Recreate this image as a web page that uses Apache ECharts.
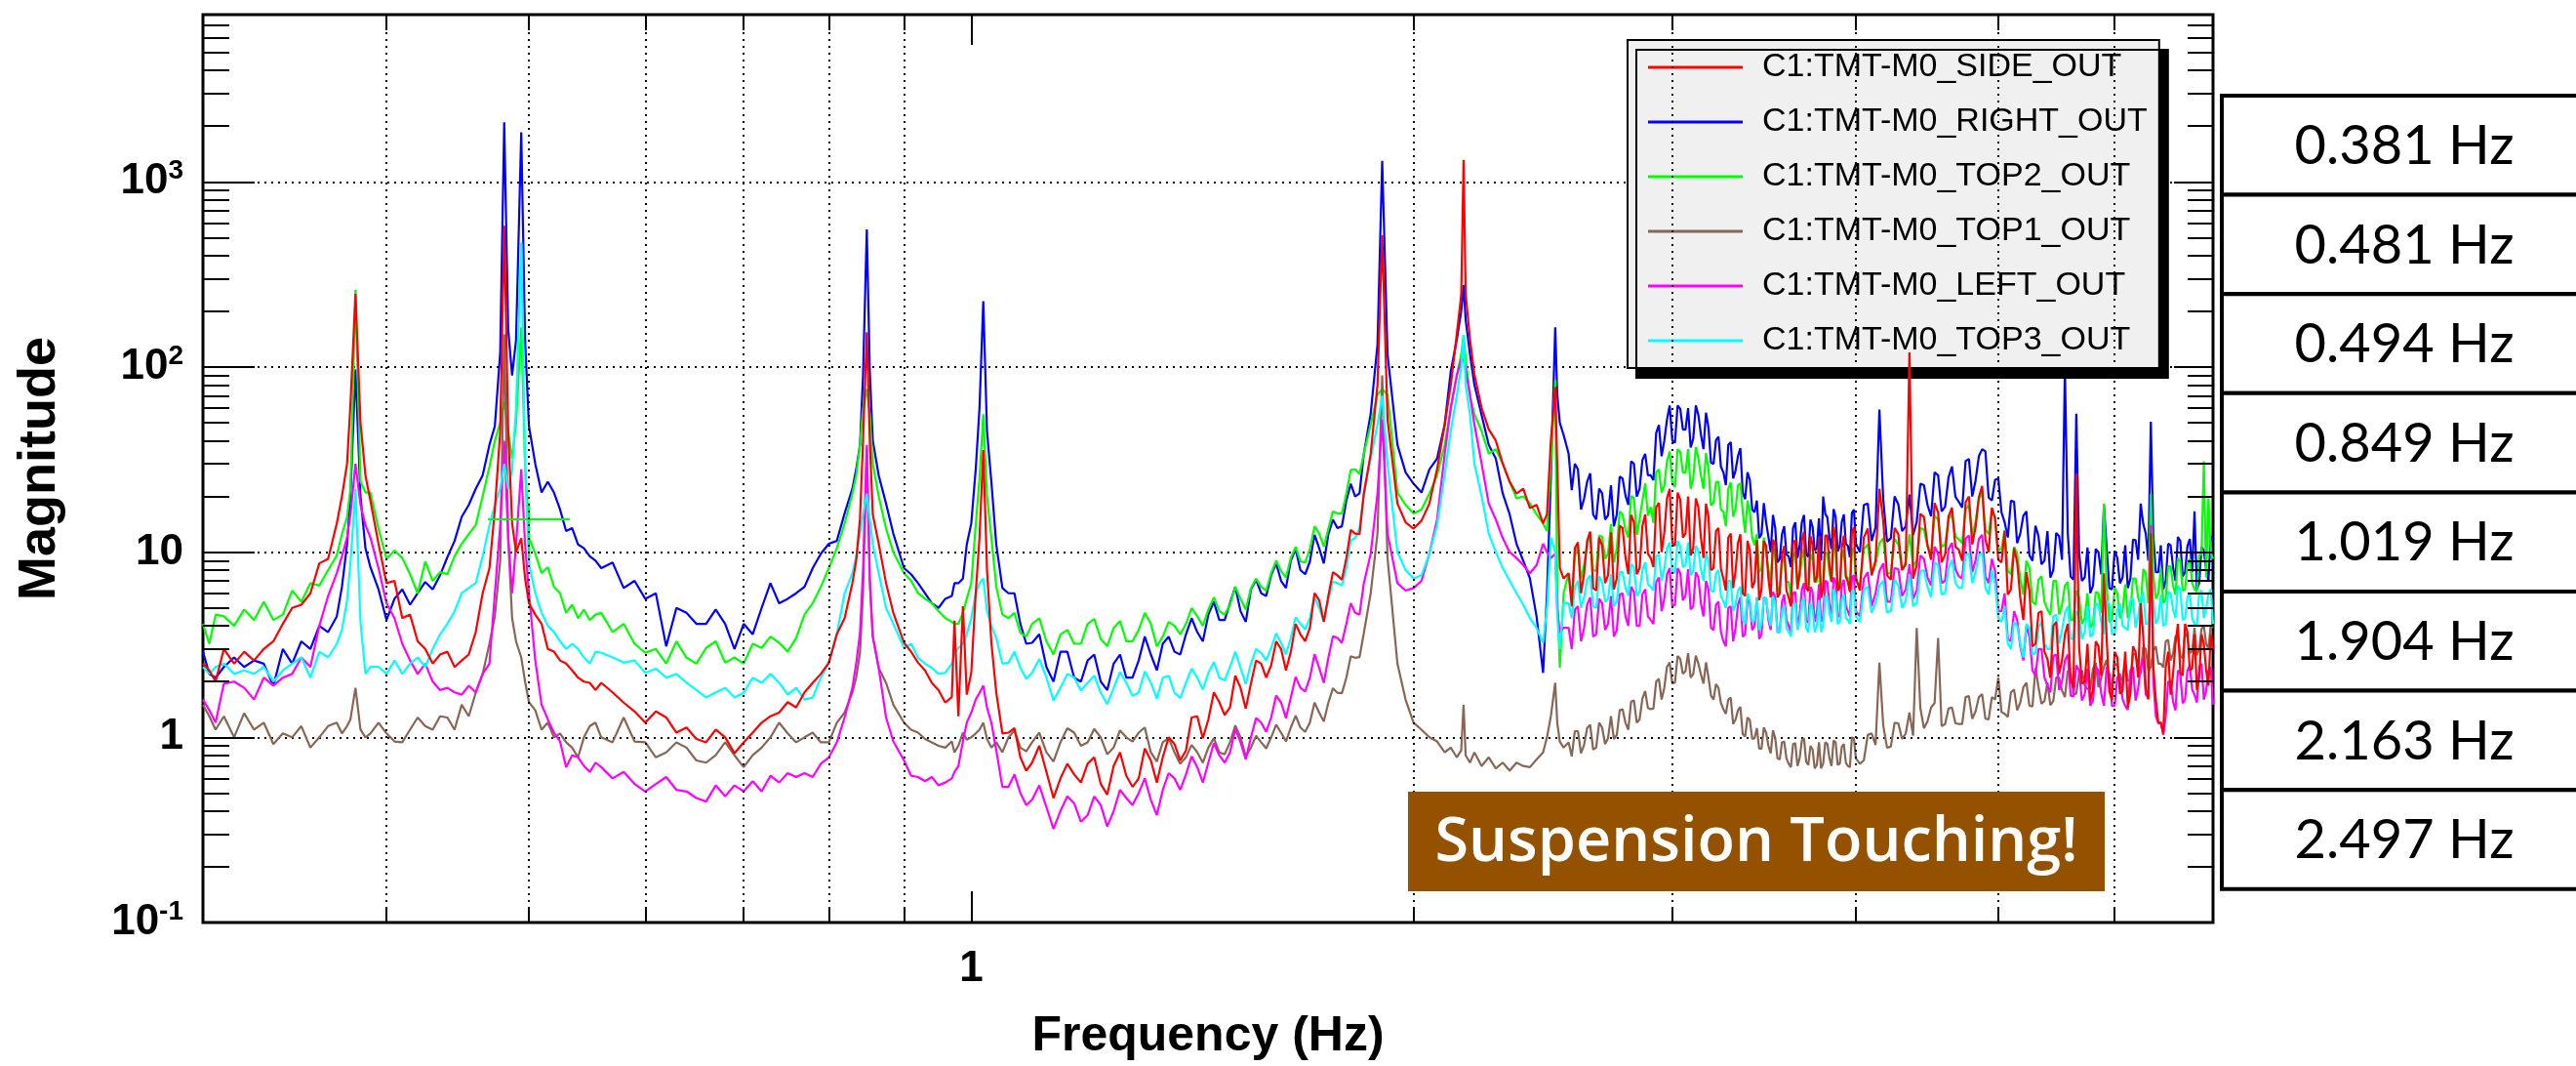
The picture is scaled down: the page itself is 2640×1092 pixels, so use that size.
<!DOCTYPE html>
<html>
<head>
<meta charset="utf-8">
<script src="https://cdn.jsdelivr.net/npm/echarts@6/dist/echarts.min.js"></script>
<style>
  html, body { margin: 0; padding: 0; background: #fff; }
  #main { width: 2640px; height: 1092px; }
</style>
</head>
<body>
<div id="main"></div>
<script>
// frequency bins (Hz), shared by all channels
var freq = [
  0.300, 0.303, 0.306, 0.310, 0.315, 0.320, 0.325, 0.330, 0.335, 0.340,
  0.345, 0.350, 0.355, 0.360, 0.365, 0.370, 0.373, 0.376, 0.378, 0.381,
  0.384, 0.387, 0.390, 0.395, 0.400, 0.405, 0.410, 0.415, 0.420, 0.425,
  0.430, 0.435, 0.440, 0.445, 0.450, 0.455, 0.460, 0.465, 0.470, 0.474,
  0.478, 0.481, 0.484, 0.487, 0.490, 0.494, 0.497, 0.500, 0.505, 0.510,
  0.515, 0.520, 0.525, 0.530, 0.535, 0.540, 0.545, 0.550, 0.555,
  0.56, 0.57, 0.58, 0.59, 0.60, 0.61, 0.62, 0.63, 0.64, 0.65,
  0.66, 0.67, 0.68, 0.69, 0.70, 0.71, 0.72, 0.73, 0.74, 0.75,
  0.76, 0.77, 0.78, 0.79, 0.80, 0.81, 0.82, 0.83, 0.835, 0.84,
  0.844, 0.849, 0.853, 0.857, 0.865, 0.875, 0.885, 0.90, 0.91, 0.92,
  0.93, 0.94, 0.95, 0.96, 0.97, 0.974, 0.98, 0.987, 0.993, 1.000,
  1.007, 1.013, 1.019, 1.025, 1.032, 1.04,
  1.06, 1.08, 1.10, 1.125, 1.15, 1.175, 1.20, 1.225, 1.25, 1.275,
  1.30, 1.325, 1.35, 1.375, 1.40, 1.425, 1.45, 1.475, 1.50, 1.525,
  1.55, 1.575, 1.60, 1.625, 1.65, 1.675, 1.70, 1.725, 1.75, 1.775,
  1.80, 1.825, 1.85, 1.87, 1.89, 1.904, 1.92,
  1.95, 1.975, 2.00, 2.025, 2.05, 2.075, 2.10, 2.12, 2.14, 2.155,
  2.163, 2.17, 2.185, 2.20, 2.225, 2.25, 2.275, 2.30, 2.325, 2.35,
  2.375, 2.40, 2.425, 2.45, 2.465, 2.48, 2.497, 2.505, 2.515, 2.53,
  2.55,
  2.575, 2.600, 2.625, 2.650, 2.675, 2.700, 2.725, 2.750, 2.775, 2.800,
  2.825, 2.850, 2.875, 2.900, 2.925, 2.950, 2.975, 3.000, 3.025, 3.050,
  3.075, 3.100, 3.125, 3.150, 3.175, 3.200, 3.225, 3.250, 3.275, 3.300,
  3.325, 3.350, 3.375, 3.400, 3.425, 3.450, 3.475, 3.500, 3.525, 3.550,
  3.575, 3.600, 3.625, 3.650, 3.675, 3.700, 3.725, 3.750, 3.775, 3.800,
  3.825, 3.850, 3.875, 3.900, 3.925, 3.950, 3.975, 4.000,
  4.05, 4.10, 4.15, 4.20, 4.25, 4.30, 4.35, 4.40, 4.45, 4.50,
  4.55, 4.60, 4.65, 4.70, 4.75, 4.80, 4.85, 4.90, 4.95, 5.00,
  5.05, 5.10, 5.15, 5.20, 5.25, 5.30, 5.35, 5.40, 5.45, 5.50,
  5.55, 5.60, 5.65, 5.70, 5.75, 5.80, 5.85, 5.90, 5.95, 6.00,
  6.05, 6.10, 6.15, 6.20, 6.25, 6.30, 6.35, 6.40, 6.45, 6.50,
  6.55, 6.60, 6.65, 6.70, 6.75, 6.80, 6.85, 6.90, 6.95, 7.00
];

// C1:TMT-M0_SIDE_OUT
var sideOut = [
  2.5, 2.3, 2.0, 3.0, 2.5, 2.9, 2.6, 3.0, 3.3, 4.1,
  5.0, 5.2, 6.0, 8.7, 9.2, 14.3, 20, 30, 63, 248,
  50, 26, 19, 11.1, 6.8, 7.0, 4.4, 4.6, 3.3, 3.0,
  2.5, 2.8, 2.9, 2.4, 2.6, 2.8, 3.7, 6.0, 8.2, 17,
  45, 580, 45, 14.3, 10, 11.9, 7.2, 5.3, 4.6, 4.1,
  3.0, 2.9, 2.6, 2.5, 2.3, 2.1, 2.0, 1.97, 1.8,
  1.97, 1.75, 1.54, 1.38, 1.2, 1.38, 1.28, 1.06, 1.13, 0.98,
  0.94, 1.1, 1.0, 0.82, 0.94, 1.06, 1.2, 1.3, 1.36, 1.55,
  1.45, 1.75, 1.97, 2.2, 2.53, 3.6, 4.4, 6.8, 9, 15.2,
  40, 154, 40, 16, 11.1, 6.8, 4.7, 3.24, 2.9, 2.53,
  2.3, 1.97, 1.8, 1.54, 1.65, 4.27, 1.3, 5.1, 1.7, 2.23,
  6.0, 12, 35.6, 8, 3.24, 1.74,
  1.06, 0.78, 0.73, 0.65, 0.6, 0.63, 0.72, 0.56, 0.7, 0.62,
  0.6, 0.75, 0.78, 0.92, 0.85, 1.3, 1.25, 1.55, 1.45, 1.85,
  1.95, 2.5, 2.45, 3.0, 2.9, 3.6, 3.9, 5.5, 5.8, 7.5,
  9.3, 12.6, 20.7, 34, 80, 514, 52,
  18.3, 14.5, 13.4, 14.8, 18.3, 28, 49, 80, 150, 245,
  1315, 250, 140, 91, 60, 46, 40, 30, 24, 20.7,
  22, 17.3, 18, 14.3, 16, 40, 78, 30, 8.2, 7.2,
  7.7,
  10.5, 6.0, 11.5, 6.4, 12, 6.8, 12.8, 7.2, 13.5, 7.6,
  14.5, 8.2, 16, 9.3, 17.5, 10, 19.5, 11.2, 21, 12,
  20, 10.5, 17.5, 9.3, 15.5, 8.2, 13.5, 7.2, 12, 6.4,
  11.2, 6.0, 11.5, 6.4, 11.6, 6.3, 10.8, 5.7, 10.9, 6.0,
  10.8, 5.7, 11.2, 6.3, 11.6, 6.4, 12.2, 6.9, 12.2, 6.4,
  12.3, 6.9, 12, 6.4, 12.3, 6.9, 12.9, 7.3,
  12, 7.5, 22, 7.5, 13.5, 8.0, 120, 8.5, 15.5, 9.1,
  16.4, 9.7, 17.4, 10.3, 18.6, 11, 19.8, 11.7, 17.4, 9.1,
  13, 6.3, 8.8, 4.3, 6.2, 3.2, 4.8, 2.65, 4.0, 2.2,
  3.6, 2.07, 26.5, 1.95, 3.2, 1.82, 3.1, 7.7, 1.77, 2.9,
  1.72, 2.9, 1.72, 2.9, 5.3, 1.82, 12.6, 1.6, 1.2, 2.4,
  1.7, 3.2, 2.25, 4.1, 2.3, 3.6, 2.1, 3.2, 1.9, 3.0
];

// C1:TMT-M0_RIGHT_OUT
var rightOut = [
  2.9, 2.2, 2.1, 2.4, 2.7, 2.4, 2.6, 2.5, 1.9, 3.0,
  2.5, 3.3, 3.0, 4.0, 3.7, 4.5, 6.5, 11, 20, 97,
  20, 10.5, 8.3, 6.3, 4.3, 5.6, 6.3, 5.2, 6.0, 6.9,
  6.3, 7.5, 9.4, 11.5, 15.5, 18, 22, 26, 38, 48,
  120, 2100, 160, 90, 140, 1850, 140, 48, 30, 21,
  24, 21, 17, 13, 13.5, 11.0, 10.5, 9.5, 9.0,
  8.2, 8.8, 6.4, 7.0, 5.6, 6.0, 3.1, 5.0, 4.7, 4.1,
  4.1, 4.9, 4.1, 3.0, 4.1, 3.6, 5.0, 6.8, 5.3, 5.6,
  6.0, 6.5, 8.2, 9.8, 11.1, 11.5, 16.2, 22, 28, 38,
  90, 554, 95, 40, 26, 18.3, 12.6, 8.2, 7.6, 6.8,
  6.0, 5.3, 5.0, 5.6, 5.8, 6.8, 6.8, 7.2, 11, 14.3,
  28, 60, 227, 45, 24, 11,
  6.0, 4.1, 3.24, 2.4, 2.9, 2.1, 2.6, 2.0, 2.5, 2.1,
  2.6, 2.8, 3.2, 2.9, 3.6, 3.7, 4.6, 4.3, 5.3, 4.8,
  6.3, 6.0, 7.5, 7.0, 9.0, 8.0, 8.9, 10.5, 12.5, 13.5,
  19, 20, 34, 56, 132, 1300, 117,
  38, 27, 23.4, 21, 28, 32, 49, 95, 140, 200,
  277, 180, 117, 80, 55, 38, 32, 20.7, 16, 11.1,
  9.0, 7.2, 4.5, 2.23, 6, 25, 164, 71, 50, 43,
  34,
  30, 17, 24, 16, 22, 15, 23, 16, 25, 18,
  30, 22, 34, 26, 44, 33, 52, 40, 62, 46,
  60, 41, 55, 36, 47, 30, 42, 27, 38, 25,
  33, 21, 27, 17, 19, 12.5, 14.5, 10, 13.5, 9.2,
  13.8, 9.5, 13.5, 9.3, 14.5, 9.8, 15, 10.2, 15.2, 20,
  15.4, 10.4, 15.5, 10.8, 16, 10.8, 16.3, 11.1,
  18, 11.5, 59, 11.4, 20, 13, 20.5, 14.6, 23, 15.6,
  26, 17.6, 29, 18.7, 31, 20, 33, 35, 19, 25,
  14.5, 19, 11.2, 15.7, 9.6, 13.9, 8.6, 13, 8, 12.2,
  100, 7.4, 56, 7, 10.6, 6.6, 10, 18, 6.4, 10.2,
  6.8, 10.9, 7.2, 11.6, 18.3, 12.6, 50.7, 7.8, 10.9, 7.0,
  10.9, 7.0, 11.5, 7.8, 11.8, 16.6, 6.8, 10.2, 7.0, 11.6
];

// C1:TMT-M0_TOP2_OUT
var top2Out = [
  4.1, 3.2, 4.6, 4.5, 4.0, 4.9, 4.3, 5.4, 4.3, 4.6,
  6.2, 5.4, 6.8, 6.6, 8.0, 9.6, 12.5, 15.5, 22, 261,
  24, 21, 21, 13.4, 9.2, 10.2, 9.3, 7.6, 6.0, 8.9,
  7.0, 7.8, 7.6, 9.5, 11.1, 12.5, 14.0, 20.0, 29, 40,
  50, 65, 45, 32, 50, 164, 30, 12.0, 9.8, 7.7,
  8.3, 6.5, 6.0, 4.7, 5.2, 4.4, 4.9, 4.3, 4.6,
  4.7, 3.7, 4.1, 3.2, 2.86, 3.0, 2.5, 3.3, 2.69, 2.5,
  3.04, 3.3, 2.53, 2.7, 2.5, 3.2, 3.04, 3.5, 3.24, 2.9,
  3.44, 4.6, 5.3, 6.5, 8.2, 10.5, 14.3, 20.7, 26, 38,
  60, 76, 55, 30, 20, 13.4, 10, 7.7, 7.0, 6.0,
  5.6, 5.3, 4.8, 4.4, 4.2, 4.1, 4.1, 4.7, 5.6, 6.8,
  14, 25, 55.6, 20, 12, 6.5,
  4.4, 3.66, 4.1, 3.3, 3.6, 3.2, 4.1, 3.4, 3.9, 3.3,
  3.8, 4.1, 3.5, 4.0, 4.1, 4.5, 4.9, 4.8, 5.2, 5.6,
  6.4, 6.5, 7.7, 7.9, 9.3, 8.9, 10.4, 12.6, 13.4, 16.2,
  20.7, 28, 34, 49, 71, 76, 71,
  21, 18, 16.2, 17, 20.7, 26, 38, 60, 90, 117,
  149, 110, 70, 55.6, 45, 34, 36, 30, 24, 19.5,
  20, 18.3, 16, 14.3, 13, 30, 85, 6.0, 2.37, 6.0,
  7.7,
  9.4, 7.2, 10.8, 8.0, 12.3, 9.2, 14.2, 10.5, 16, 12,
  19.5, 15, 23.5, 17.5, 27, 21, 31, 23.5, 36, 27,
  36, 25, 32, 22, 28, 18.5, 24, 16.5, 22, 15.5,
  23, 16.5, 19, 12, 12.5, 8.2, 10, 6.9, 9.4, 6.5,
  9.6, 6.9, 9.4, 6.5, 9.3, 6.5, 9.8, 6.9, 9.6, 6.5,
  9.8, 6.9, 9.9, 6.9, 10.3, 7.3, 10, 6.9,
  10.4, 7.6, 11.2, 7.6, 11.8, 8.0, 12.5, 9.0, 13.3, 9.7,
  15, 11, 16, 11.7, 17, 12.4, 19.5, 13.3, 17, 10.3,
  13.2, 7.6, 9.8, 5.9, 8.2, 5.2, 7.4, 4.9, 7.0, 4.6,
  6.6, 4.3, 6.2, 4.1, 6.0, 4.1, 6.0, 18.3, 4.2, 6.4,
  4.4, 6.7, 4.8, 7.2, 5.1, 7.7, 20.7, 5.6, 8.2, 5.6,
  8.4, 5.9, 8.9, 6.3, 9.2, 6.3, 9.6, 31, 19.5, 9.2
];

// C1:TMT-M0_TOP1_OUT
var top1Out = [
  1.5, 1.3, 1.1, 1.3, 1.0, 1.35, 1.1, 1.2, 0.92, 1.05,
  1.0, 1.15, 0.88, 1.0, 1.15, 1.2, 1.05, 1.15, 1.25, 1.85,
  1.1, 1.0, 1.05, 1.2, 1.05, 0.95, 0.94, 1.1, 1.28, 1.15,
  1.1, 1.3, 1.28, 1.1, 1.5, 1.3, 1.74, 2.2, 3.2, 4.5,
  9, 150, 12, 4.4, 3.3, 2.7, 2.0, 1.55, 1.4, 1.1,
  1.2, 1.0, 1.05, 0.94, 0.88, 0.78, 1.0, 1.15, 1.2,
  1.0, 0.94, 1.28, 0.95, 0.94, 0.78, 0.83, 0.94, 0.88, 0.75,
  0.73, 0.8, 0.94, 0.8, 0.69, 0.8, 0.88, 1.0, 1.2, 1.05,
  0.94, 1.0, 1.06, 0.94, 0.94, 1.2, 1.36, 1.74, 2.1, 2.86,
  6, 36, 7, 3.5, 2.37, 1.97, 1.5, 1.2, 1.1, 1.06,
  0.98, 0.94, 0.9, 0.88, 0.95, 0.83, 0.9, 1.06, 0.97, 1.0,
  1.05, 1.1, 1.2, 0.98, 0.88, 0.94,
  1.0, 0.88, 0.94, 0.83, 0.94, 1.06, 0.94, 1.0, 0.88, 1.0,
  1.06, 0.83, 0.94, 0.83, 0.78, 0.83, 0.88, 0.83, 0.94, 1.0,
  0.88, 0.94, 1.0, 1.06, 1.13, 1.13, 1.2, 1.36, 1.54, 1.74,
  2.1, 2.69, 3.66, 6.0, 12.6, 90, 9.3,
  2.5, 1.6, 1.2, 1.1, 1.0, 0.95, 0.83, 0.88, 0.78, 0.85,
  1.5, 0.8, 0.73, 0.83, 0.7, 0.78, 0.68, 0.73, 0.66, 0.73,
  0.7, 0.69, 0.76, 0.83, 1.0, 1.3, 1.97, 1.2, 0.95, 0.88,
  0.94,
  1.08, 0.82, 1.12, 0.86, 1.2, 0.92, 1.3, 1.03, 1.42, 1.1,
  1.58, 1.25, 1.78, 1.42, 2.0, 1.6, 2.4, 1.95, 2.75, 2.2,
  2.85, 2.2, 2.5, 1.95, 2.1, 1.6, 1.85, 1.42, 1.6, 1.18,
  1.4, 1.04, 1.28, 0.98, 1.12, 0.87, 1.06, 0.82, 0.99, 0.76,
  0.95, 0.72, 0.92, 0.7, 0.96, 0.74, 0.9, 0.68, 0.94, 0.72,
  0.92, 0.7, 0.94, 0.72, 0.92, 0.7, 1.0, 0.77,
  0.75, 1.05, 2.53, 0.88, 1.2, 0.98, 1.36, 3.9, 1.12, 1.45,
  3.44, 1.18, 1.45, 1.18, 1.65, 1.26, 1.65, 1.26, 1.65, 2.1,
  1.34, 1.75, 1.4, 1.86, 1.48, 2.37, 1.52, 1.98, 1.57, 2.1,
  1.65, 2.2, 1.72, 2.3, 1.82, 2.35, 1.86, 2.4, 1.9, 2.5,
  1.98, 2.6, 2.05, 2.8, 2.2, 3.0, 2.4, 3.1, 2.5, 3.3,
  2.6, 3.5, 2.75, 3.7, 2.85, 3.9, 3.0, 4.0, 3.0, 3.9
];

// C1:TMT-M0_LEFT_OUT
var leftOut = [
  1.6, 1.4, 1.2, 1.95, 2.0, 1.85, 1.6, 2.1, 1.9, 2.1,
  2.2, 2.7, 2.4, 4.0, 5.8, 7.7, 9.5, 12, 16, 30,
  18, 14, 12, 8.2, 5.3, 4.4, 3.2, 2.6, 2.2, 2.5,
  2.0, 1.8, 1.85, 1.75, 1.7, 1.9, 1.75, 2.2, 2.5, 6,
  14, 40, 12, 6.0, 11, 28, 11, 6.0, 2.6, 1.5,
  1.25, 1.06, 0.95, 0.69, 0.80, 0.78, 0.7, 0.65, 0.73,
  0.69, 0.6, 0.65, 0.56, 0.51, 0.56, 0.61, 0.52, 0.51, 0.47,
  0.45, 0.55, 0.48, 0.55, 0.51, 0.58, 0.51, 0.62, 0.57, 0.64,
  0.61, 0.64, 0.61, 0.72, 0.78, 0.94, 1.28, 1.85, 2.5, 3.66,
  8, 38, 7, 3.5, 2.37, 1.28, 0.95, 0.75, 0.62, 0.61,
  0.58, 0.61, 0.55, 0.57, 0.6, 0.65, 0.7, 0.95, 1.2, 1.36,
  1.6, 1.74, 1.9, 1.45, 1.2, 0.85,
  0.54, 0.5, 0.46, 0.42, 0.4, 0.44, 0.38, 0.43, 0.4, 0.47,
  0.5, 0.46, 0.52, 0.6, 0.63, 0.69, 0.73, 0.8, 0.83, 0.94,
  1.0, 1.2, 1.28, 1.54, 1.64, 1.85, 2.1, 2.37, 2.69, 3.44,
  4.1, 4.7, 6.8, 9.8, 20.7, 52, 12.6,
  6.8, 6.2, 6.4, 7, 9.8, 15, 34, 60, 90, 110,
  110, 97, 70, 49, 30, 18.3, 15, 11.9, 10, 9.3,
  8.5, 7.7, 8.5, 11.1, 10, 9.3, 9.8, 5, 3.66, 3.9,
  3.9,
  4.9, 3.3, 5.2, 3.5, 5.6, 3.8, 5.8, 3.8, 6.0, 4.0,
  6.1, 4.0, 6.3, 4.3, 6.9, 4.8, 7.6, 5.1, 8.2, 5.5,
  8.1, 5.1, 7.3, 4.5, 6.3, 3.8, 5.4, 3.3, 5.0, 3.3,
  5.2, 3.5, 5.6, 3.8, 5.7, 3.6, 5.6, 3.8, 5.7, 3.7,
  5.9, 4.0, 6.0, 3.9, 6.3, 4.2, 6.5, 4.2, 6.7, 4.5,
  6.9, 4.5, 6.9, 4.5, 7.1, 4.8, 7.3, 4.8,
  7.2, 5.1, 7.9, 5.4, 8.2, 5.8, 8.6, 6.2, 9.2, 6.6,
  9.8, 7.0, 11.2, 7.4, 11.8, 7.8, 11.8, 7.4, 9.2, 4.8,
  6.0, 3.3, 4.3, 2.6, 3.5, 2.15, 3.0, 1.9, 2.75, 1.8,
  2.6, 1.68, 2.45, 1.58, 2.35, 1.58, 2.3, 1.48, 2.2, 1.48,
  2.2, 1.48, 2.3, 1.58, 2.4, 1.7, 14, 1.3, 1.2, 1.3,
  2.0, 1.4, 2.2, 1.6, 2.45, 1.7, 2.4, 1.6, 2.3, 1.5
];

// C1:TMT-M0_TOP3_OUT
var top3Out = [
  2.4, 2.2, 2.4, 2.5, 2.2, 2.3, 2.2, 2.4, 2.0, 2.3,
  2.5, 2.7, 2.1, 2.9, 2.7, 3.2, 3.8, 5.5, 8.7, 22,
  4.2, 2.2, 2.4, 2.4, 2.2, 2.6, 2.2, 2.5, 2.7, 2.4,
  3.0, 3.6, 4.1, 4.8, 6.0, 6.4, 6.8, 9.5, 14, 18,
  22, 30, 22, 28, 60, 470, 28, 8.7, 6.0, 4.7,
  4.0, 3.7, 3.3, 3.0, 3.2, 3.0, 2.7, 2.5, 2.9,
  2.86, 2.7, 2.53, 2.6, 2.23, 2.35, 2.1, 2.2, 1.97, 1.8,
  1.64, 1.75, 1.85, 1.64, 1.74, 2.1, 1.97, 2.2, 1.97, 1.7,
  1.85, 1.6, 1.64, 2.1, 2.53, 3.6, 6.0, 7.7, 9.5, 12.6,
  16, 20.7, 15, 11, 7.7, 5.0, 4.1, 3.04, 3.2, 2.69,
  2.5, 2.37, 2.2, 2.23, 2.5, 2.8, 3.04, 3.2, 3.6, 4.4,
  6.0, 6.8, 7.2, 4.8, 4.0, 3.44,
  2.53, 2.37, 2.23, 2.1, 1.85, 2.1, 1.97, 1.74, 1.85, 1.97,
  1.75, 1.97, 2.1, 1.74, 1.97, 2.1, 2.23, 2.1, 2.4, 2.37,
  2.5, 2.86, 3.04, 3.24, 3.44, 4.1, 4.4, 5.0, 5.6, 6.8,
  8.2, 11.9, 20.7, 32, 49, 70, 30,
  10, 8, 7.2, 7.5, 9.8, 14, 26.5, 45, 70, 100,
  149, 80, 55, 30, 20, 12.6, 10, 8.2, 7.0, 6.0,
  5.2, 4.4, 3.9, 3.24, 5, 12, 10, 4.4, 3.0, 5.3,
  5.3,
  6.5, 5.0, 7.1, 5.1, 7.4, 5.4, 7.6, 5.4, 7.8, 5.8,
  8.3, 6.1, 8.8, 6.5, 9.5, 7.0, 10.5, 7.9, 11.5, 8.3,
  11.3, 7.9, 10.2, 7.0, 9.0, 6.1, 8.0, 5.4, 7.0, 4.8,
  6.2, 4.3, 6.0, 4.2, 5.7, 4.1, 5.6, 4.0, 5.3, 3.7,
  5.2, 3.7, 5.2, 3.8, 5.4, 3.9, 5.3, 3.7, 5.5, 4.0,
  5.8, 4.2, 5.9, 4.2, 5.9, 4.3, 6.2, 4.5,
  6.3, 4.7, 6.6, 4.7, 7.1, 5.0, 7.6, 5.3, 8.0, 5.7,
  8.5, 6.0, 9.1, 6.4, 9.7, 6.8, 9.7, 6.4, 8.0, 4.4,
  5.1, 3.0, 4.0, 2.7, 3.9, 2.85, 4.2, 3.0, 4.5, 3.2,
  4.7, 3.4, 4.8, 3.4, 5.1, 3.6, 5.2, 3.6, 5.2, 3.6,
  5.3, 3.9, 5.5, 3.9, 5.7, 4.1, 6.0, 4.1, 5.9, 4.1,
  6.0, 4.4, 6.3, 4.4, 6.0, 4.1, 6.0, 4.4, 6.0, 4.1
];

// extra bins in the noisy stretches (they fall between the bins above)
var freqFine = [
  1.05, 1.07, 1.09, 1.1125, 1.1375, 1.1625, 1.1875, 1.2125, 1.2375, 1.2625,
  1.2875, 1.3125, 1.3375, 1.3625, 1.3875, 1.4125, 1.4375, 1.4625, 1.4875, 1.5125,
  1.5375, 1.5625, 1.5875, 1.6125, 1.6375, 1.6625, 1.6875, 1.7125, 1.7375, 1.7625,
  1.7875, 1.8125, 1.8375,
  2.5625, 2.5875, 2.6125, 2.6375, 2.6625, 2.6875, 2.7125, 2.7375, 2.7625, 2.7875,
  2.8125, 2.8375, 2.8625, 2.8875, 2.9125, 2.9375, 2.9625, 2.9875, 3.0125, 3.0375,
  3.0625, 3.0875, 3.1125, 3.1375, 3.1625, 3.1875, 3.2125, 3.2375, 3.2625, 3.2875,
  3.3125, 3.3375, 3.3625, 3.3875, 3.4125, 3.4375, 3.4625, 3.4875, 3.5125, 3.5375,
  3.5625, 3.5875, 3.6125, 3.6375, 3.6625, 3.6875, 3.7125, 3.7375, 3.7625, 3.7875,
  3.8125, 3.8375, 3.8625, 3.8875, 3.9125, 3.9375, 3.9625, 3.9875,
  4.025, 4.075, 4.125, 4.175, 4.225, 4.275, 4.325, 4.375, 4.425, 4.475,
  4.525, 4.575, 4.625, 4.675, 4.725, 4.775, 4.825, 4.875, 4.925, 4.975,
  5.025, 5.075, 5.125, 5.175, 5.225, 5.275, 5.325, 5.375, 5.425, 5.475,
  5.525, 5.575, 5.625, 5.675, 5.725, 5.775, 5.825, 5.875, 5.925, 5.975,
  6.025, 6.075, 6.125, 6.175, 6.225, 6.275, 6.325, 6.375, 6.425, 6.475,
  6.525, 6.575, 6.625, 6.675, 6.725, 6.775, 6.825, 6.875, 6.925, 6.975
];
var sideFine = [
  1.05, 1.12, 0.66, 0.9, 0.47, 0.72, 0.57, 0.78, 0.49, 0.83,
  0.54, 0.87, 0.57, 1.0, 0.75, 1.28, 0.99, 1.75, 1.32, 2.15,
  1.43, 2.6, 2.1, 3.3, 2.3, 4.1, 3.3, 6.0, 4.2, 7.8,
  7.1, 13.2, 12.5,
  5.1, 11.3, 7.6, 12.9, 6.2, 10.9, 7.5, 6.3, 13.9, 9.4,
  15.9, 7.6, 13.8, 9.8, 8.3, 18.5, 12.7, 22, 10.8, 19.2,
  12.6, 9.6, 19.5, 12, 18.3, 8.0, 13, 8.1, 6.2, 12.6,
  7.9, 12.5, 5.8, 10.3, 6.9, 5.5, 11.5, 7.2, 11.7, 5.7,
  9.7, 6.2, 5.1, 11.6, 7.8, 12.9, 6.2, 11, 7.3, 5.7,
  12.3, 8.5, 13.7, 6.2, 10.6, 7.4, 6.1, 13.6,
  6.2, 13.4, 9, 14.7, 7.1, 12.5, 8.6, 7.2, 16.1, 10.9,
  18.4, 8.8, 15.6, 10.7, 9, 20, 13.6, 22.8, 10, 15.2,
  8.8, 5.9, 10.5, 5.7, 7.8, 3.1, 4.7, 2.9, 2.1, 4.2,
  2.6, 4.1, 1.86, 3.1, 2.0, 1.57, 3.3, 2.15, 3.45, 1.59,
  2.7, 1.78, 1.45, 3.1, 2.1, 3.5, 1.6, 2.4, 1.2, 1.05,
  2.9, 2.2, 4.1, 2.15, 3.7, 2.35, 1.8, 3.6, 2.3, 3.6
];
var rightFine = [
  6.4, 6.0, 3.2, 3.6, 2.0, 2.9, 2.0, 2.8, 1.8, 2.8,
  2.1, 3.5, 2.3, 3.5, 2.8, 4.4, 3.3, 5.4, 4.3, 6.5,
  4.2, 7.1, 5.8, 8.7, 6.4, 10.4, 7.6, 12.4, 8.7, 15,
  13.8, 23.4, 20.8,
  21.6, 28, 19.4, 26.7, 15, 20.8, 15.8, 13.8, 25.6, 20.3,
  31, 20, 31.4, 26, 24.5, 48.6, 40, 62, 39, 59.4,
  45.9, 36.7, 62, 43.2, 56.7, 30.4, 40.3, 28.9, 23, 39.3,
  27.6, 36.5, 19.3, 24.6, 16.4, 11.9, 18.4, 12.1, 15.9, 8.8,
  12.5, 9.7, 8.3, 14.5, 10.8, 15.9, 9.4, 13.7, 10.5, 9.0,
  16.1, 12, 17.1, 10.1, 14.6, 11.1, 9.4, 17,
  10, 18.3, 13.6, 19.3, 11.9, 18.1, 13.8, 12.4, 23.4, 18,
  27, 16.6, 25.4, 19.9, 17.4, 31.9, 24.4, 36, 19.7, 24.6,
  16.4, 12, 18.7, 12.6, 16.6, 9, 12.2, 9, 7.3, 12.7,
  9.1, 12.7, 7.1, 9.9, 7.3, 6, 10.4, 7.6, 10.7, 6.3,
  9.3, 7.3, 6.4, 11.7, 9.1, 14.2, 9, 12.2, 7.8, 6.3,
  11.1, 8.3, 12.1, 7.4, 10.8, 7.8, 6.3, 10.7, 8.1, 12.2
];
var top2Fine = [
  4.6, 4.7, 3.5, 4.4, 2.8, 3.8, 3.2, 4.35, 3.1, 4.25,
  3.3, 4.7, 3.1, 4.2, 3.6, 5.0, 4.0, 5.7, 4.6, 6.5,
  4.9, 7.2, 6.2, 9.0, 7.3, 10.7, 8.8, 13.8, 10.7, 16.6,
  16.2, 27.8, 26.4,
  5.7, 10.8, 8.5, 12.8, 7.9, 12.1, 9.8, 8.8, 16.6, 13.2,
  20.1, 12.4, 19, 15.7, 14.4, 28, 22.8, 35, 22.5, 34.7,
  26.8, 22, 37, 26, 34.3, 17.9, 24, 17, 13.8, 23.8,
  17.1, 23.5, 12.7, 16.7, 10.9, 7.8, 12, 8.1, 10.9, 6.1,
  8.7, 6.9, 5.8, 10, 7.3, 10.4, 6.1, 9.1, 6.9, 5.6,
  10, 7.7, 11.1, 6.4, 9.3, 7.3, 6.2, 10.6,
  6.6, 11, 8.6, 11.9, 7.8, 11, 8.9, 8.4, 13.5, 10.7,
  15.7, 10.7, 15, 12.2, 11.2, 18, 14.6, 20.7, 12.5, 15.1,
  10.4, 7.9, 10.7, 7.2, 9, 5.4, 7.1, 5.4, 4.6, 7,
  5.2, 6.9, 4.3, 5.7, 4.4, 3.9, 6.1, 4.7, 6.5, 4.3,
  6, 4.8, 4.4, 7.2, 5.7, 8.1, 5.3, 7.5, 6, 5.3,
  8.4, 6.6, 9.3, 6.2, 8.6, 6.8, 6.1, 9.8, 7.3, 9.9
];
var top1Fine = [
  0.83, 1.09, 0.84, 1.06, 0.74, 1.12, 0.9, 1.11, 0.81, 1.09,
  0.95, 1.13, 0.74, 0.99, 0.72, 0.91, 0.73, 0.99, 0.81, 1.16,
  0.79, 1.02, 0.87, 1.17, 0.95, 1.31, 1.07, 1.54, 1.22, 1.84,
  1.73, 2.74, 2.71,
  0.79, 1.08, 0.91, 1.17, 0.88, 1.13, 0.99, 0.98, 1.4, 1.2,
  1.56, 1.2, 1.62, 1.44, 1.43, 2.07, 1.85, 2.54, 1.98, 2.65,
  2.28, 2.1, 2.76, 2.19, 2.54, 1.68, 1.94, 1.53, 1.34, 1.64,
  1.25, 1.46, 1.01, 1.24, 0.99, 0.87, 1.13, 0.9, 1.09, 0.77,
  0.94, 0.77, 0.69, 0.93, 0.77, 0.99, 0.71, 0.86, 0.71, 0.68,
  0.94, 0.77, 0.96, 0.71, 0.89, 0.73, 0.69, 0.99,
  0.72, 1.03, 0.91, 1.16, 0.89, 1.19, 1.05, 1.02, 1.44, 1.22,
  1.53, 1.15, 1.43, 1.19, 1.18, 1.67, 1.38, 1.71, 1.25, 1.6,
  1.37, 1.29, 1.81, 1.54, 1.97, 1.47, 1.87, 1.57, 1.49, 2.1,
  1.79, 2.29, 1.71, 2.21, 1.91, 1.84, 2.53, 2.09, 2.62, 1.93,
  2.46, 2.11, 2.02, 2.83, 2.4, 3.07, 2.29, 2.94, 2.5, 2.39,
  3.36, 2.83, 3.6, 2.68, 3.46, 2.93, 2.77, 3.85, 3.21, 4.04
];
var leftFine = [
  0.54, 0.63, 0.43, 0.55, 0.32, 0.48, 0.35, 0.48, 0.33, 0.52,
  0.43, 0.6, 0.38, 0.64, 0.52, 0.79, 0.57, 0.93, 0.73, 1.11,
  0.76, 1.27, 1.07, 1.68, 1.27, 2.12, 1.77, 2.81, 1.97, 3.51,
  3.24, 5.3, 4.6,
  3.0, 5.1, 3.9, 5.7, 3.6, 5.3, 4.1, 3.5, 5.9, 4.5,
  6.5, 4.0, 5.9, 4.5, 4.1, 7.3, 5.6, 8.2, 5.2, 7.7,
  5.8, 4.9, 7.8, 5.3, 7.0, 3.9, 5.2, 3.7, 3.1, 5.1,
  3.9, 5.7, 3.6, 5.3, 4.0, 3.4, 5.7, 4.3, 6.1, 3.7,
  5.4, 4.3, 3.7, 6.1, 4.6, 6.8, 4.2, 6.1, 4.7, 4.2,
  7.0, 5.2, 7.3, 4.5, 6.6, 5.1, 4.5, 7.5,
  4.5, 7.8, 6, 8.7, 5.4, 8.1, 6.3, 5.6, 9.6, 7.3,
  10.7, 6.8, 10.4, 8.1, 7.2, 12.3, 9, 12.4, 6.8, 7.9,
  4.8, 3.4, 4.8, 3.1, 4.0, 2.3, 3.0, 2.1, 1.75, 2.8,
  2.0, 2.8, 1.66, 2.3, 1.71, 1.48, 2.4, 1.73, 2.4, 1.48,
  2.1, 1.61, 1.41, 2.4, 1.83, 2.7, 1.64, 2.0, 1.19, 1.03,
  2.0, 1.56, 2.3, 1.53, 2.3, 1.81, 1.54, 2.5, 1.78, 2.4
];
var top3Fine = [
  2.5, 2.9, 2.07, 2.65, 1.58, 2.2, 1.79, 2.15, 1.51, 2.25,
  1.67, 2.27, 1.62, 2.15, 1.63, 2.35, 1.81, 2.55, 2.03, 2.9,
  1.94, 3.0, 2.6, 3.64, 2.81, 4.45, 3.83, 5.73, 4.24, 6.94,
  6.6, 11.6, 13.4,
  4.4, 7.0, 5.7, 7.5, 5.0, 6.9, 5.6, 5.1, 7.8, 6.4,
  8.6, 5.8, 8.0, 6.7, 6.2, 9.7, 8.1, 11.3, 7.7, 10.7,
  8.5, 7.5, 10.8, 8.1, 9.9, 6.2, 7.7, 5.8, 5.0, 7.0,
  5.2, 6.5, 4.1, 5.5, 4.3, 3.8, 5.7, 4.5, 5.8, 3.7,
  4.8, 3.9, 3.5, 5.3, 4.2, 5.7, 3.7, 4.9, 4.0, 3.7,
  5.8, 4.7, 6.3, 4.1, 5.5, 4.4, 4.1, 6.2,
  4.2, 6.5, 5.3, 7, 4.8, 6.6, 5.5, 5.1, 7.9, 6.5,
  8.8, 5.9, 8.2, 6.8, 6.4, 9.8, 7.8, 9.9, 5.9, 6.7,
  4.2, 3.2, 4.2, 3.2, 4.1, 2.8, 3.9, 3.2, 3.0, 4.6,
  3.8, 5.1, 3.4, 4.5, 3.7, 3.5, 5.3, 4.2, 5.5, 3.6,
  4.9, 4.0, 3.8, 5.6, 4.5, 6.1, 4.1, 5.5, 4.4, 4.0,
  6.1, 4.9, 6.6, 4.3, 5.7, 4.4, 4.0, 6.2, 4.9, 6.3
];

var channelNames = ['C1:TMT-M0_SIDE_OUT', 'C1:TMT-M0_RIGHT_OUT', 'C1:TMT-M0_TOP2_OUT',
                    'C1:TMT-M0_TOP1_OUT', 'C1:TMT-M0_LEFT_OUT', 'C1:TMT-M0_TOP3_OUT'];
var channelData = [sideOut, rightOut, top2Out, top1Out, leftOut, top3Out];
var channelFine = [sideFine, rightFine, top2Fine, top1Fine, leftFine, top3Fine];
var channelColors = ['#ff0000', '#0000ff', '#00ff00', '#886655', '#ff00ff', '#00ffff'];

// error cross on TOP2 (ROOT marker)
var top2CrossH = [[0.469, 15.1], [0.533, 15.1]];
var top2CrossV = [[0.500, 9.3], [0.500, 18.5]];

// resonance list on the right
var modeFreqLabels = ['0.381 Hz', '0.481 Hz', '0.494 Hz', '0.849 Hz',
                      '1.019 Hz', '1.904 Hz', '2.163 Hz', '2.497 Hz'];

// axis ranges / ticks
var xMin = 0.3, xMax = 7, yMin = 0.1, yMax = 8000;
var xGridVals = [0.4, 0.5, 0.6, 0.7, 0.8, 0.9, 2, 3, 4, 5, 6];
var yDecades = [0.1, 1, 10, 100, 1000];
var yMinorMult = [2, 3, 4, 5, 6, 7, 8, 9];

var myChart = echarts.init(document.getElementById('main'));

// px per decade of the plot frame, used only for tick lengths
var pxDecX = 1506.5, pxDecY = 189.5;
function kx(px) { return Math.pow(10, px / pxDecX); }
function ky(px) { return Math.pow(10, px / pxDecY); }

var dotted = { color: '#000', width: 2, type: [2, 5] };
var solid = { color: '#000', width: 2, type: 'solid' };

var frameLines = [];
xGridVals.forEach(function (v) {
  frameLines.push({ xAxis: v, lineStyle: dotted });
});
xGridVals.concat([1]).forEach(function (v) {
  var big = (v === 1);
  frameLines.push([{ coord: [v, yMin], lineStyle: solid }, { coord: [v, yMin * ky(big ? 32 : 16)] }]);
  frameLines.push([{ coord: [v, yMax], lineStyle: solid }, { coord: [v, yMax / ky(big ? 31 : 16)] }]);
});
yDecades.forEach(function (d) {
  if (d > yMin) {
    frameLines.push([{ coord: [xMin, d], lineStyle: solid }, { coord: [xMin * kx(53), d] }]);
    frameLines.push([{ coord: [xMax, d], lineStyle: solid }, { coord: [xMax / kx(40), d] }]);
  }
  yMinorMult.forEach(function (m) {
    var v = d * m;
    if (v >= yMax) return;
    frameLines.push([{ coord: [xMin, v], lineStyle: solid }, { coord: [xMin * kx(27), v] }]);
    frameLines.push([{ coord: [xMax, v], lineStyle: solid }, { coord: [xMax / kx(26), v] }]);
  });
});

function channelPoints(k) {
  var pts = freq.map(function (f, i) { return [f, channelData[k][i]]; });
  freqFine.forEach(function (f, i) { pts.push([f, channelFine[k][i]]); });
  pts.sort(function (a, b) { return a[0] - b[0]; });
  return pts;
}

var series = channelNames.map(function (name, k) {
  var s = {
    name: name,
    type: 'line',
    data: channelPoints(k),
    showSymbol: false,
    symbol: 'none',
    z: k === 0 ? 4 : 3,
    lineStyle: { color: channelColors[k], width: 2.2 },
    itemStyle: { color: channelColors[k] }
  };
  if (k === 2) {
    s.markLine = {
      silent: true, symbol: 'none', animation: false,
      label: { show: false },
      lineStyle: { color: channelColors[k], width: 2, type: 'solid' },
      data: [
        [{ coord: top2CrossH[0] }, { coord: top2CrossH[1] }],
        [{ coord: top2CrossV[0] }, { coord: top2CrossV[1] }]
      ]
    };
  }
  return s;
});

// frame helper (grid lines + ROOT style ticks)
series.push({
  name: 'frame',
  type: 'line',
  data: [],
  z: 1,
  markLine: {
    silent: true, symbol: 'none', animation: false,
    label: { show: false },
    data: frameLines
  }
});

var graphics = [];
modeFreqLabels.forEach(function (t, i) {
  var y0 = 98 + i * 101.6;
  graphics.push({
    type: 'rect', z: 100,
    shape: { x: 2277, y: y0, width: 420, height: 101.6 },
    style: { fill: '#fff', stroke: '#000', lineWidth: 4 }
  });
  graphics.push({
    type: 'text', z: 101,
    style: {
      text: t, x: 2464, y: y0 + 52,
      textAlign: 'center', textVerticalAlign: 'middle', align: 'center', verticalAlign: 'middle',
      fontSize: 56, fontFamily: 'Lato', fill: '#000'
    }
  });
});
graphics.push({
  type: 'rect', z: 100,
  shape: { x: 1443, y: 811, width: 714, height: 102 },
  style: { fill: '#945200' }
});
graphics.push({
  type: 'text', z: 101,
  style: {
    text: 'Suspension Touching!', x: 1800, y: 864,
    textAlign: 'center', textVerticalAlign: 'middle', align: 'center', verticalAlign: 'middle',
    fontSize: 63, fontWeight: 600, fontFamily: 'Open Sans', fill: '#fff'
  }
});

option = {
  animation: false,
  backgroundColor: '#fff',
  textStyle: { fontFamily: 'Liberation Sans' },
  grid: {
    left: 208, right: 372, top: 15, bottom: 146,
    show: true, borderColor: '#000', borderWidth: 3, backgroundColor: 'transparent'
  },
  legend: {
    data: channelNames,
    orient: 'vertical',
    left: 1668, top: 41,
    icon: 'rect',
    itemWidth: 97, itemHeight: 3,
    itemGap: 20,
    padding: [10, 12, 10, 21],
    backgroundColor: '#f0f0f0',
    borderColor: '#000', borderWidth: 2,
    shadowColor: '#000', shadowBlur: 0, shadowOffsetX: 9, shadowOffsetY: 10,
    textStyle: {
      fontFamily: 'Liberation Sans', fontSize: 34, color: '#000',
      lineHeight: 36, padding: [0, 0, 0, 15]
    }
  },
  xAxis: {
    type: 'log', logBase: 10, min: xMin, max: xMax,
    name: 'Frequency (Hz)', nameLocation: 'middle', nameGap: 92,
    nameTextStyle: { fontSize: 50, fontWeight: 'bold', color: '#000', fontFamily: 'Liberation Sans' },
    axisLine: { show: false },
    axisTick: { show: false },
    splitLine: { show: false },
    axisLabel: {
      margin: 26, fontSize: 44, fontWeight: 'bold', color: '#000',
      showMinLabel: false, showMaxLabel: false,
      formatter: function (v) { return Math.abs(v - 1) < 1e-9 ? '1' : ''; }
    }
  },
  yAxis: {
    type: 'log', logBase: 10, min: yMin, max: yMax,
    name: 'Magnitude', nameLocation: 'middle', nameGap: 140,
    nameTextStyle: { fontSize: 54, fontWeight: 'bold', color: '#000', fontFamily: 'Liberation Sans' },
    axisLine: { show: false },
    axisTick: { show: false },
    splitLine: { show: true, lineStyle: dotted },
    axisLabel: {
      margin: 20, color: '#000',
      formatter: function (v) {
        var e = Math.round(Math.log(v) / Math.LN10);
        if (Math.abs(v - Math.pow(10, e)) > 1e-6 * v) return '';
        if (e === 0) return '{b|1}';
        if (e === 1) return '{b|10}';
        return '{b|10}{s|' + e + '}';
      },
      rich: {
        b: { fontSize: 44, fontWeight: 'bold', color: '#000' },
        s: { fontSize: 28, fontWeight: 'bold', color: '#000', padding: [0, 0, 22, 0] }
      }
    }
  },
  series: series,
  graphic: graphics
};

myChart.setOption(option);
</script>
</body>
</html>
